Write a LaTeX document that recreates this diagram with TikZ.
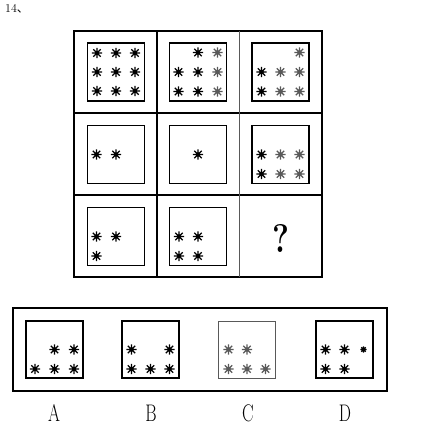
\documentclass[tikz,border=0pt]{standalone}
\usepackage{fontspec}
\usepackage{tikz}
\usetikzlibrary{calc}
\newfontfamily\cjk{Noto Sans CJK SC}
\definecolor{faint}{gray}{0.35}

\begin{document}
\begin{tikzpicture}[x=1pt, y=-1pt,
    inbox/.style={draw, line width=1.2pt, minimum width=57pt, minimum height=58pt, inner sep=0pt},
    optbox/.style={draw, line width=1.2pt, minimum width=57pt, minimum height=57pt, inner sep=0pt},
    letter/.style={font=\fontsize{24}{24}\selectfont, inner sep=0pt},
    ast/.pic={
        \draw[line width=1.1pt] (-5.2,0)--(5.2,0) (0,-5.2)--(0,5.2) (-3.7,-3.7)--(3.7,3.7) (-3.7,3.7)--(3.7,-3.7);
        \fill (0,0) circle (2.2);
    }]
    \useasboundingbox (0,0) rectangle (423,430);

    \node[inner sep=0pt] (num) at (17,9) {\fontsize{12}{12}\selectfont 14{\cjk 、}};

    % the 3x3 grid
    \draw[line width=1.6pt] (74,31) rectangle (322,277);
    \draw[line width=1.2pt] (157,31) -- (157,277) (74,113) -- (322,113) (74,195) -- (322,195);
    \draw[line width=0.8pt, faint] (239,31) -- (239,277);

    % row 1
    \node[inbox] (c11) at (116,72) {};
    \foreach \i/\j in {-1/-1,0/-1,1/-1,-1/0,0/0,1/0,-1/1,0/1,1/1}
        \pic at ($(c11)+(\i*19,\j*19)$) {ast};
    \node[inbox] (c12) at (198,72) {};
    \foreach \i/\j in {0/-1,-1/0,0/0,-1/1,0/1}
        \pic at ($(c12)+(\i*19.5,\j*19.5)$) {ast};
    \foreach \j in {-1,0,1}
        \pic[faint] at ($(c12)+(19.5,\j*19.5)$) {ast};
    \node[inbox] (c13) at (280.5,72) {};
    \foreach \i/\j in {-1/0,-1/1}
        \pic at ($(c13)+(\i*19,\j*19.5)$) {ast};
    \foreach \i/\j in {1/-1,0/0,1/0,0/1,1/1}
        \pic[faint] at ($(c13)+(\i*19,\j*19.5)$) {ast};

    % row 2
    \node[inbox] (c21) at (116,154.5) {};
    \foreach \i in {-1,0}
        \pic at ($(c21)+(\i*19.5,0)$) {ast};
    \node[inbox] (c22) at (198,154.5) {};
    \pic at (c22) {ast};
    \node[inbox] (c23) at (280.5,154.5) {};
    \foreach \j in {0,1}
        \pic at ($(c23)+(-19,\j*19.5)$) {ast};
    \foreach \i/\j in {0/0,1/0,0/1,1/1}
        \pic[faint] at ($(c23)+(\i*19,\j*19.5)$) {ast};

    % row 3
    \node[inbox] (c31) at (116,236.5) {};
    \foreach \i/\j in {-1/0,0/0,-1/1}
        \pic at ($(c31)+(\i*19.5,\j*19.5)$) {ast};
    \node[inbox] (c32) at (198,236.5) {};
    \foreach \i/\j in {-1/0,0/0,-1/1,0/1}
        \pic at ($(c32)+(\i*19,\j*19.5)$) {ast};
    \node[font=\fontsize{40}{40}\selectfont\bfseries, inner sep=0pt] (qm) at (281,238) {\scalebox{0.8}[1]{?}};

    % answer options
    \draw[line width=1.4pt] (13,308) rectangle (387,391);
    \node[optbox] (oa) at (54.5,349.5) {};
    \foreach \i/\j in {0/0,1/0,-1/1,0/1,1/1}
        \pic at ($(oa)+(\i*19.5,\j*19.5)$) {ast};
    \node[optbox] (ob) at (150.5,349.5) {};
    \foreach \i/\j in {-1/0,1/0,-1/1,0/1,1/1}
        \pic at ($(ob)+(\i*19,\j*19.5)$) {ast};
    \node[optbox, faint, line width=0.8pt] (oc) at (247,349.5) {};
    \foreach \i/\j in {-1/0,0/0,-1/1,0/1,1/1}
        \pic[faint] at ($(oc)+(\i*18.5,\j*19.5)$) {ast};
    \node[optbox] (od) at (344.5,349.5) {};
    \foreach \i/\j in {-1/0,0/0,-1/1,0/1}
        \pic at ($(od)+(\i*19,\j*19.5)$) {ast};
    \pic[scale=0.6] at ($(od)+(19,0)$) {ast};

    \node[letter] (la) at (54,413) {\scalebox{0.72}[1]{A}};
    \node[letter] (lb) at (151,413) {\scalebox{0.72}[1]{B}};
    \node[letter] (lc) at (248,413) {\scalebox{0.72}[1]{C}};
    \node[letter] (ld) at (345,413) {\scalebox{0.72}[1]{D}};
\end{tikzpicture}
\end{document}
